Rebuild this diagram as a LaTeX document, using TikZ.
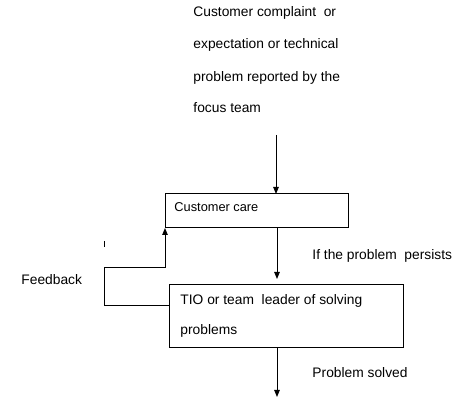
\documentclass[tikz,border=0pt]{standalone}
\usepackage{fontspec}
\setmainfont{Liberation Sans}
\usetikzlibrary{arrows.meta}
\begin{document}
\begin{tikzpicture}[x=1pt,y=-1pt,
  line width=0.9pt,
  box/.style={draw,line width=1pt,inner sep=0pt,outer sep=0pt},
  txt/.style={inner sep=0pt,anchor=base west,font=\fontsize{13.8}{16}\selectfont},
  arr/.style={-{Triangle[length=7pt,width=5.5pt]}}]
\useasboundingbox (0,0) rectangle (467,403);
% top text
\node[txt] (top1) at (193,17) {Customer complaint\ \ or};
\node[txt] (top2) at (193,49) {expectation or technical};
\node[txt] (top3) at (193,82) {problem reported by the};
\node[txt] (top4) at (193,113) {focus team};
% boxes
\node[box,minimum width=183pt,minimum height=34pt] (cc) at (256.5,211) {};
\node[txt,font=\fontsize{12.8}{14}\selectfont] (cct) at (174,212) {Customer care};
\node[box,minimum width=234pt,minimum height=63pt] (tio) at (286,316.5) {};
\node[txt] (tio1) at (180,305) {TIO or team\ \ leader of solving};
\node[txt] (tio2) at (180,335) {problems};
% labels
\node[txt] (persist) at (312,260) {If the problem\ \ persists};
\node[txt] (fb) at (21,285) {Feedback};
\node[txt] (solved) at (312,378) {Problem solved};
% coordinates
\coordinate (s1) at (276,135);
\coordinate (e1) at (276,194);
\coordinate (s2) at (277,228);
\coordinate (e2) at (277,279);
\coordinate (f0) at (169,305);
\coordinate (f1) at (104,305);
\coordinate (f2) at (104,267);
\coordinate (f3) at (165,267);
\coordinate (f4) at (165,228);
\coordinate (s3) at (277,348);
\coordinate (e3) at (277,397);
\coordinate (t1) at (104,241);
\coordinate (t2) at (104,247);
% connectors
\draw[arr] (s1) -- (e1);
\draw[arr] (s2) -- (e2);
\draw[arr] (f0) -- (f1) -- (f2) -- (f3) -- (f4);
\draw[arr] (s3) -- (e3);
\draw (t1) -- (t2);
\end{tikzpicture}
\end{document}
